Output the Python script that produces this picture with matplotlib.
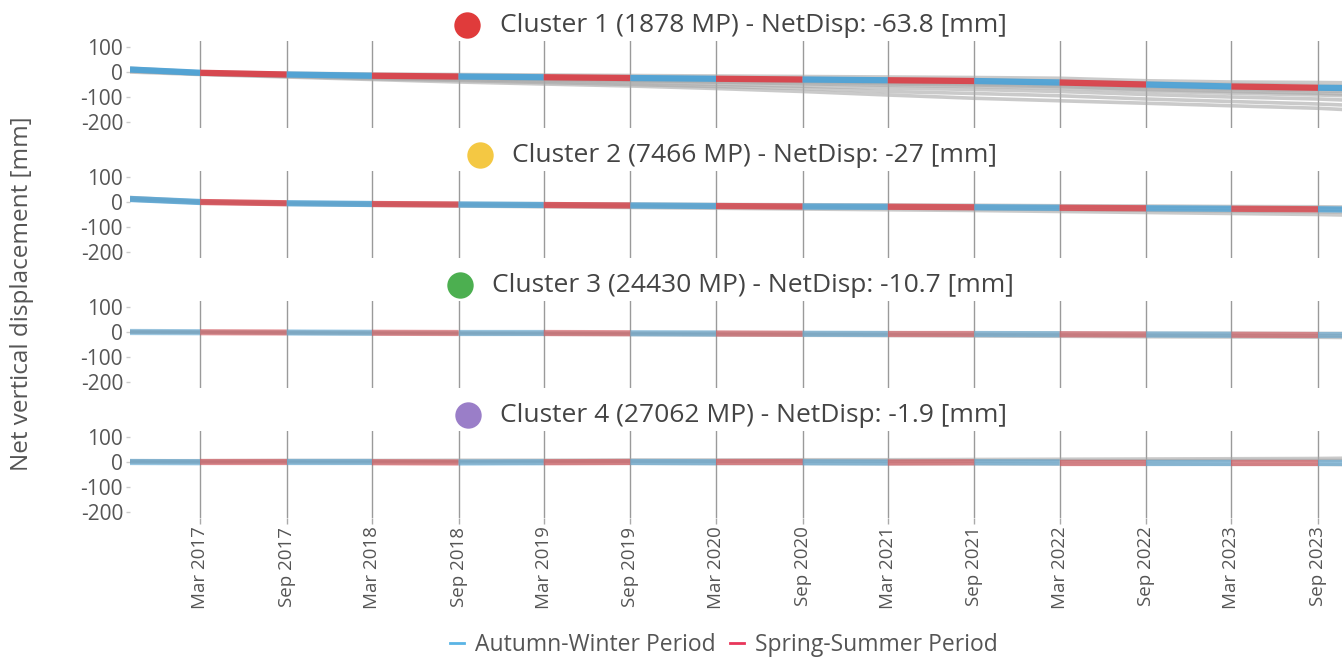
import numpy as np
import pandas as pd
import matplotlib
matplotlib.use('Agg')
import matplotlib.pyplot as plt
from matplotlib.lines import Line2D

plt.rcParams['font.family'] = ['Open Sans', 'DejaVu Sans']

# ── Data ──────────────────────────────────────────────────────────
# nodes: series start, each Mar/Sep period boundary, series end
dates = pd.to_datetime([
    '2016-10-03', '2017-03-01', '2017-09-01', '2018-03-01', '2018-09-01',
    '2019-03-01', '2019-09-01', '2020-03-01', '2020-09-01', '2021-03-01',
    '2021-09-01', '2022-03-01', '2022-09-01', '2023-03-01', '2023-09-01',
    '2023-10-25',
])
boundaries = dates[1:-1]
tick_labels = [d.strftime('%b %Y') for d in boundaries]

cluster_names = ['Cluster 1', 'Cluster 2', 'Cluster 3', 'Cluster 4']
cluster_mp = [1878, 7466, 24430, 27062]
cluster_netdisp = ['-63.8', '-27', '-10.7', '-1.9']
cluster_colors = ['#e03b3b', '#f4c843', '#4caf50', '#9a7ec8']

mean_c1 = [10, -3, -10, -15, -18, -21, -24, -27, -30, -33, -36, -42, -50, -58, -63, -64]
mean_c2 = [12, 0, -5, -8, -10, -12, -14, -16, -18, -19, -21, -23, -25, -27, -29, -30]
mean_c3 = [0, -1, -2, -3, -4, -4, -5, -6, -7, -8, -8, -9, -10, -11, -12, -12]
mean_c4 = [0, -1, -1, -1, -2, -1, 0, -1, -1, -2, -1, -2, -2, -2, -2, -2]

gray_c1 = [
    [15, 0, -5, -8, -10, -12, -14, -16, -18, -20, -22, -25, -35, -40, -42, -43],
    [12, -2, -8, -12, -15, -18, -20, -23, -26, -29, -32, -37, -45, -50, -55, -56],
    [10, -4, -11, -16, -20, -24, -27, -31, -35, -38, -42, -48, -58, -65, -70, -72],
    [8, -5, -12, -18, -22, -26, -30, -34, -38, -42, -46, -52, -62, -70, -76, -78],
    [6, -5, -13, -19, -24, -28, -33, -38, -43, -48, -52, -58, -70, -78, -85, -88],
    [5, -6, -14, -21, -26, -31, -36, -41, -47, -53, -58, -65, -76, -85, -92, -95],
    [5, -8, -16, -24, -30, -36, -43, -50, -57, -64, -70, -78, -90, -100, -108, -112],
    [3, -8, -18, -27, -34, -42, -50, -58, -66, -78, -86, -95, -108, -118, -128, -132],
    [0, -10, -20, -30, -40, -48, -56, -66, -78, -92, -105, -115, -125, -135, -145, -150],
]
gray_c2 = [
    [18, 3, -2, -4, -6, -7, -8, -10, -11, -12, -13, -15, -16, -18, -19, -20],
    [15, 1, -4, -7, -9, -11, -13, -15, -17, -18, -20, -22, -24, -26, -28, -29],
    [10, -2, -7, -10, -13, -15, -18, -20, -23, -25, -27, -30, -33, -36, -39, -40],
    [8, -3, -9, -13, -16, -19, -22, -25, -28, -31, -34, -38, -42, -46, -50, -52],
]
gray_c3 = [
    [3, 2, 1, 0, -1, -1, -2, -2, -3, -3, -4, -4, -5, -5, -6, -6],
    [0, -1, -3, -4, -5, -6, -7, -8, -9, -10, -11, -12, -13, -14, -15, -15],
    [-2, -3, -5, -7, -8, -9, -10, -12, -13, -14, -16, -17, -19, -20, -21, -22],
]
gray_c4 = [
    [5, 5, 6, 6, 7, 7, 8, 8, 9, 9, 10, 11, 12, 13, 14, 15],
    [2, 1, 2, 2, 2, 3, 3, 3, 4, 4, 4, 5, 5, 6, 6, 6],
    [-2, -3, -3, -4, -4, -5, -5, -6, -6, -7, -7, -8, -8, -9, -9, -10],
]

means = [mean_c1, mean_c2, mean_c3, mean_c4]
grays = [gray_c1, gray_c2, gray_c3, gray_c4]

# ── Style ─────────────────────────────────────────────────────────
BLUE = '#4fa3d6'
RED = '#d9434b'
mean_alpha = [0.95, 0.8, 0.5, 0.55]
TXT = '#555555'

W, H = 1342, 660
fig = plt.figure(figsize=(W / 100, H / 100), dpi=100)

zero_px = [72, 202, 332, 462]
px_per_unit = 0.25
ylo, yhi = -225, 125
ax_left, ax_right = 130, 1342
circle_x = [467, 480, 460, 468]
text_x = [500, 512, 492, 500]

axes = []
for i in range(4):
    top_px = zero_px[i] - yhi * px_per_unit
    h_px = (yhi - ylo) * px_per_unit
    ax = fig.add_axes([ax_left / W, 1 - (top_px + h_px) / H,
                       (ax_right - ax_left) / W, h_px / H])
    axes.append(ax)

    for g in grays[i]:
        ax.plot(dates, g, color='#a8a8a8', lw=2.6, alpha=0.6, zorder=2)

    m = np.array(means[i], dtype=float)
    for k in range(len(dates) - 1):
        # segment starting at a Sep boundary (or the Oct start) is autumn-winter
        col = BLUE if dates[k].month in (9, 10) else RED
        ax.plot(dates[k:k + 2], m[k:k + 2], color=col, lw=4.5,
                alpha=mean_alpha[i], solid_capstyle='butt', zorder=3)

    for b in boundaries:
        ax.axvline(b, color='#9a9a9a', lw=1.0, zorder=1)

    ax.set_xlim(dates[0], pd.Timestamp('2023-10-22'))
    ax.set_ylim(ylo, yhi)
    ax.set_yticks([100, 0, -100, -200])
    ax.set_yticklabels(['100', '0', '-100', '-200'])
    ax.tick_params(axis='y', length=3, width=1, color='#cccccc',
                   labelsize=15, labelcolor=TXT, pad=2)
    ax.set_xticks(boundaries)
    if i < 3:
        ax.tick_params(axis='x', length=0, labelbottom=False)
    else:
        ax.set_xticklabels(tick_labels, rotation=90)
        ax.tick_params(axis='x', length=4, width=1, color='#aaaaaa',
                       labelsize=13.5, labelcolor=TXT, pad=2)
    for s in ax.spines.values():
        s.set_visible(False)
    ax.patch.set_alpha(0)

    # title: coloured dot + text
    ty = 1 - (zero_px[i] - 47) / H
    fig.lines.append(Line2D([circle_x[i] / W], [ty], marker='o', markersize=19,
                            color=cluster_colors[i], markeredgewidth=0,
                            transform=fig.transFigure, figure=fig))
    fig.text(text_x[i] / W, ty,
             f'{cluster_names[i]} ({cluster_mp[i]} MP) - NetDisp: {cluster_netdisp[i]} [mm]',
             ha='left', va='center', fontsize=19, color='#444444')

fig.text(22 / W, 1 - 294 / H, 'Net vertical displacement [mm]', rotation=90,
         ha='center', va='center', fontsize=17.5, color=TXT)

handles = [Line2D([0], [0], color='#5ab4e5', lw=2),
           Line2D([0], [0], color='#e8365a', lw=2)]
fig.legend(handles, ['Autumn-Winter Period', 'Spring-Summer Period'],
           loc='center', bbox_to_anchor=(724 / W, 1 - 645 / H), ncol=2,
           frameon=False, fontsize=16.5, handlelength=0.6, handletextpad=0.5,
           columnspacing=0.6, labelcolor=TXT)

fig.savefig('out.png', dpi=100)
